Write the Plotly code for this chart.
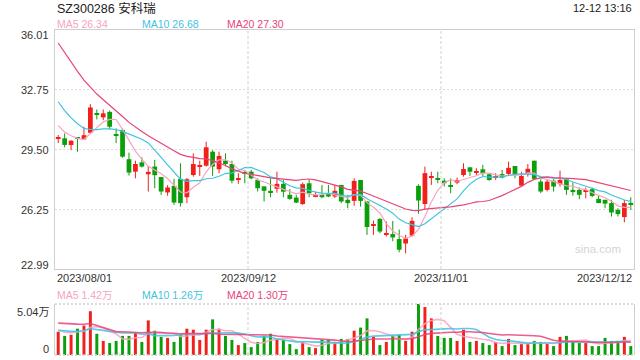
import plotly.graph_objects as go
import pandas as pd

# ---------------- data ----------------
title_text = "SZ300286 安科瑞"
time_text = "12-12 13:16"
x_labels = ["2023/08/01", "2023/09/12", "2023/11/01", "2023/12/12"]
x_label_idx = [0, 30, 60, 89]
price_ticks = [36.01, 32.75, 29.50, 26.25, 22.99]
vol_tick_labels = ["5.04万", "0"]
vol_max = 5.04  # 万
ma_legend = ["MA5 26.34", "MA10 26.68", "MA20 27.30"]
vol_ma_legend = ["MA5 1.42万", "MA10 1.26万", "MA20 1.30万"]

opens = [30.08, 30.11, 29.74, 30.12, 30.05, 30.41, 31.45, 31.25, 31.55, 30.32,
         30.57, 28.97, 28.29, 28.80, 28.15, 28.57, 28.00, 27.16, 27.52, 27.90,
         26.90, 28.11, 28.58, 28.62, 29.38, 28.42, 28.89, 28.71, 27.86, 28.23,
         28.29, 27.84, 27.49, 27.25, 27.36, 27.63, 27.03, 26.88, 26.53, 27.66,
         26.96, 27.03, 27.07, 26.94, 27.57, 26.76, 26.70, 27.84, 26.67, 25.35,
         25.72, 24.87, 24.89, 24.62, 24.38, 24.81, 27.52, 26.53, 27.95, 27.90,
         27.80, 27.54, 27.70, 28.11, 28.53, 28.24, 28.42, 28.15, 27.96, 28.16,
         28.17, 28.60, 27.53, 28.21, 28.89, 27.75, 27.30, 27.80, 27.61, 27.88,
         27.30, 27.30, 27.19, 27.34, 26.81, 26.76, 26.58, 26.21, 25.82, 26.56]
highs = [30.29, 30.38, 30.00, 30.15, 30.74, 31.97, 31.68, 31.68, 31.62, 30.65,
         30.65, 29.33, 28.89, 29.08, 28.60, 28.93, 28.00, 27.56, 27.90, 28.75,
         27.95, 29.29, 28.89, 29.92, 29.47, 29.38, 29.29, 28.89, 28.21, 28.39,
         28.39, 27.93, 27.49, 27.93, 28.29, 27.84, 27.34, 27.03, 27.70, 27.84,
         27.21, 27.57, 27.57, 27.57, 27.57, 27.03, 27.93, 27.84, 26.70, 25.63,
         25.76, 25.58, 25.61, 25.14, 24.85, 25.81, 27.60, 28.57, 28.29, 28.29,
         27.93, 27.93, 27.97, 28.75, 28.53, 28.48, 28.66, 28.20, 28.21, 28.39,
         28.84, 28.60, 28.29, 28.71, 28.89, 27.88, 27.88, 27.88, 28.35, 27.93,
         27.70, 27.43, 27.43, 27.43, 27.03, 26.76, 26.76, 26.30, 26.76, 26.90]
lows = [29.85, 29.62, 29.47, 29.38, 30.02, 30.38, 31.14, 31.10, 30.60, 29.85,
        29.05, 28.08, 27.93, 28.52, 27.21, 27.39, 27.03, 26.98, 26.48, 26.39,
        26.58, 28.02, 28.06, 28.57, 28.06, 28.21, 28.57, 27.66, 27.63, 27.66,
        27.88, 27.21, 26.67, 26.90, 27.15, 26.90, 26.76, 26.58, 26.48, 26.90,
        26.90, 26.85, 26.90, 26.85, 26.58, 26.30, 26.43, 26.39, 24.85, 24.85,
        24.94, 24.76, 24.50, 23.90, 23.84, 24.75, 26.00, 26.21, 27.57, 27.66,
        27.48, 27.12, 27.61, 28.02, 28.06, 28.11, 28.06, 27.80, 27.84, 27.93,
        28.11, 27.93, 27.48, 28.02, 27.84, 27.12, 27.21, 27.21, 27.48, 27.03,
        26.98, 26.79, 26.84, 26.90, 26.58, 26.30, 25.85, 25.85, 25.53, 26.21]
closes = [30.12, 29.75, 29.98, 30.08, 30.28, 31.79, 31.40, 31.47, 30.74, 30.27,
          29.11, 28.24, 28.71, 28.57, 28.28, 28.10, 27.21, 27.43, 26.61, 26.58,
          27.88, 28.71, 28.64, 29.62, 28.57, 29.15, 28.71, 27.80, 27.90, 28.19,
          27.93, 27.39, 27.25, 27.16, 27.63, 27.20, 26.81, 26.61, 27.61, 27.12,
          26.99, 26.90, 26.94, 27.25, 26.67, 26.58, 27.79, 26.70, 25.28, 25.40,
          25.03, 24.90, 24.71, 24.04, 24.65, 25.61, 26.72, 28.21, 28.00, 27.86,
          27.66, 27.50, 27.84, 28.44, 28.29, 28.28, 28.21, 27.84, 27.98, 27.97,
          28.50, 28.15, 28.06, 28.45, 27.90, 27.21, 27.75, 27.48, 27.84, 27.30,
          27.18, 27.03, 27.23, 26.97, 26.58, 26.55, 26.07, 25.98, 26.58, 26.53]
volumes = [2.30, 1.89, 2.00, 2.60, 2.91, 4.33, 2.10, 1.39, 1.18, 1.39,
           1.89, 1.89, 2.20, 1.29, 3.42, 2.40, 1.79, 1.69, 1.29, 2.00,
           2.60, 2.50, 1.49, 2.50, 3.52, 2.60, 1.89, 1.49, 0.98, 1.18,
           0.78, 1.29, 1.89, 2.10, 1.59, 1.49, 1.08, 0.58, 1.29, 0.78,
           0.68, 1.49, 1.49, 1.29, 1.59, 1.59, 2.40, 2.71, 3.62, 1.79,
           0.98, 1.29, 1.89, 2.00, 1.39, 2.30, 5.04, 4.74, 3.62, 1.89,
           1.69, 1.69, 1.39, 2.50, 1.29, 1.39, 1.18, 0.98, 1.29, 0.88,
           1.59, 0.98, 1.08, 1.08, 1.39, 1.29, 1.08, 0.88, 1.79, 1.89,
           1.29, 1.18, 1.18, 0.88, 0.88, 1.69, 1.39, 1.39, 1.79, 0.88]
# sessions before the visible window (needed for the moving averages)
prior_closes = [40.5, 40.2, 40.0, 39.8, 39.5, 38.9, 37.6, 36.6, 36.2, 35.7,
                34.6, 33.9, 33.3, 32.8, 32.4, 31.5, 31.0, 30.8, 30.6]
prior_volumes = [2.8, 3.0, 2.7, 3.1, 2.9, 5.8, 5.4, 5.6, 5.2, 2.1,
                 2.6, 2.3, 2.5, 2.4, 2.4, 2.7, 2.4, 2.3, 2.5]

# ---------------- style ----------------
W, H = 640, 360
RED, GREEN = "#f2201b", "#0b9f0b"
MA_COLORS = ["#f9a3c0", "#3fc4e0", "#e9437b"]
FONT = "Liberation Sans, Arial, Noto Sans CJK SC, sans-serif"
PX0, PX1 = 55, 634          # plot left/right in pixels
MAIN_T, MAIN_B = 30, 269    # main panel top/bottom
VOL_T, VOL_B = 304, 355     # volume panel top/bottom


def fx(p):
    return p / W


def fy(p):
    return 1 - p / H


n = len(closes)
idx = list(range(n))
n_prior = len(prior_closes)
all_close = pd.Series(prior_closes + closes)
all_vol = pd.Series(prior_volumes + volumes)
mas = [all_close.rolling(k).mean().iloc[n_prior:].tolist() for k in (5, 10, 20)]
vmas = [all_vol.rolling(k).mean().iloc[n_prior:].tolist() for k in (5, 10, 20)]

up = [c >= o for o, c in zip(opens, closes)]
colors = [RED if u else GREEN for u in up]

fig = go.Figure()

# wicks
for col, flag in ((RED, True), (GREEN, False)):
    xs, ys = [], []
    for i in idx:
        if up[i] == flag:
            xs += [i, i, None]
            ys += [lows[i], highs[i], None]
    fig.add_trace(go.Scatter(x=xs, y=ys, mode="lines", line=dict(color=col, width=1),
                             hoverinfo="skip", xaxis="x", yaxis="y"))

# bodies
base = [min(o, c) for o, c in zip(opens, closes)]
height = [max(abs(c - o), 0.06) for o, c in zip(opens, closes)]
fig.add_trace(go.Bar(x=idx, y=height, base=base, width=0.74,
                     marker=dict(color=colors, line=dict(width=0)),
                     xaxis="x", yaxis="y"))

# moving averages on price
for m, col in zip(mas, MA_COLORS):
    fig.add_trace(go.Scatter(x=idx, y=m, mode="lines", line=dict(color=col, width=1.2),
                             xaxis="x", yaxis="y"))

# volume
fig.add_trace(go.Bar(x=idx, y=volumes, width=0.46,
                     marker=dict(color=colors, line=dict(width=0)),
                     xaxis="x2", yaxis="y2"))
for m, col in zip(vmas, MA_COLORS):
    fig.add_trace(go.Scatter(x=idx, y=m, mode="lines", line=dict(color=col, width=1.6),
                             opacity=0.85, xaxis="x2", yaxis="y2"))

xr = [-0.5, n - 0.5]
fig.update_layout(
    width=W, height=H, margin=dict(l=0, r=0, t=0, b=0),
    paper_bgcolor="white", plot_bgcolor="white", showlegend=False,
    barmode="overlay",
    font=dict(family=FONT, size=11, color="#333"),
    xaxis=dict(domain=[fx(PX0), fx(PX1)], range=xr, anchor="y",
               showticklabels=False, showgrid=False, zeroline=False,
               showline=True, mirror=True, linecolor="#cfcfcf", ticks=""),
    yaxis=dict(domain=[fy(MAIN_B), fy(MAIN_T)], range=[price_ticks[-1], price_ticks[0]],
               anchor="x", tickvals=price_ticks[1:-1], showticklabels=False,
               gridcolor="#dcdcdc", griddash="2px,2px", gridwidth=1, zeroline=False,
               showline=True, mirror=True, linecolor="#cfcfcf", ticks=""),
    xaxis2=dict(domain=[fx(PX0), fx(PX1)], range=xr, anchor="y2",
                showticklabels=False, showgrid=False, zeroline=False, showline=False),
    yaxis2=dict(domain=[fy(VOL_B), fy(VOL_T)], range=[0, vol_max], anchor="x2",
                showticklabels=False, showgrid=False, zeroline=False,
                showline=True, mirror=True, linecolor="#cfcfcf", ticks=""),
)

shapes = []
# vertical dashed separators at the start of labelled sessions
for k in x_label_idx[1:-1]:
    for xa, ya in (("x", "y domain"), ("x2", "y2 domain")):
        shapes.append(dict(type="line", xref=xa, yref=ya, x0=k - 0.5, x1=k - 0.5,
                           y0=0, y1=1, line=dict(color="#d0d0d0", width=1, dash="3px,2px")))
# dotted top and bottom of volume panel
for yv in (0, 1):
    shapes.append(dict(type="line", xref="x2 domain", yref="y2 domain", x0=0, x1=1,
                       y0=yv, y1=yv, line=dict(color="#d0d0d0", width=1.5, dash="2px,2px")))
fig.update_layout(shapes=shapes)

ann = []


def text(x, y, s, anchor="left", size=11, color="#333"):
    ann.append(dict(x=fx(x), y=fy(y), xref="paper", yref="paper", text=s, showarrow=False,
                    xanchor=anchor, yanchor="middle", font=dict(size=size, color=color, family=FONT)))


text(55, 8, title_text, size=12.5, color="#222")
text(634, 8, time_text, anchor="right", size=11, color="#222")
for lbl, xp, col in zip(ma_legend, (55, 140, 225), MA_COLORS):
    text(xp, 24, lbl, size=10.5, color=col)
for lbl, xp, col in zip(vol_ma_legend, (55, 140, 225), MA_COLORS):
    text(xp, 295, lbl, size=10.5, color=col)
for v, yp in zip(price_ticks, (35, 90, 149.5, 209.5, 264.5)):
    text(51, yp, f"{v:.2f}", anchor="right", size=11)
for s, yp in zip(vol_tick_labels, (312, 349)):
    text(51, yp, s, anchor="right", size=11)
for s, k, anc in zip(x_labels, x_label_idx, ("left", "center", "center", "right")):
    xp = {"left": PX0, "right": PX1}.get(anc, PX0 + (k) * (PX1 - PX0) / n)
    text(xp, 277.5, s, anchor=anc, size=11)
text(623, 249, "sina.com", anchor="right", size=11.5, color="#d4d4d4")
fig.update_layout(annotations=ann)

fig.write_html("out.html")
